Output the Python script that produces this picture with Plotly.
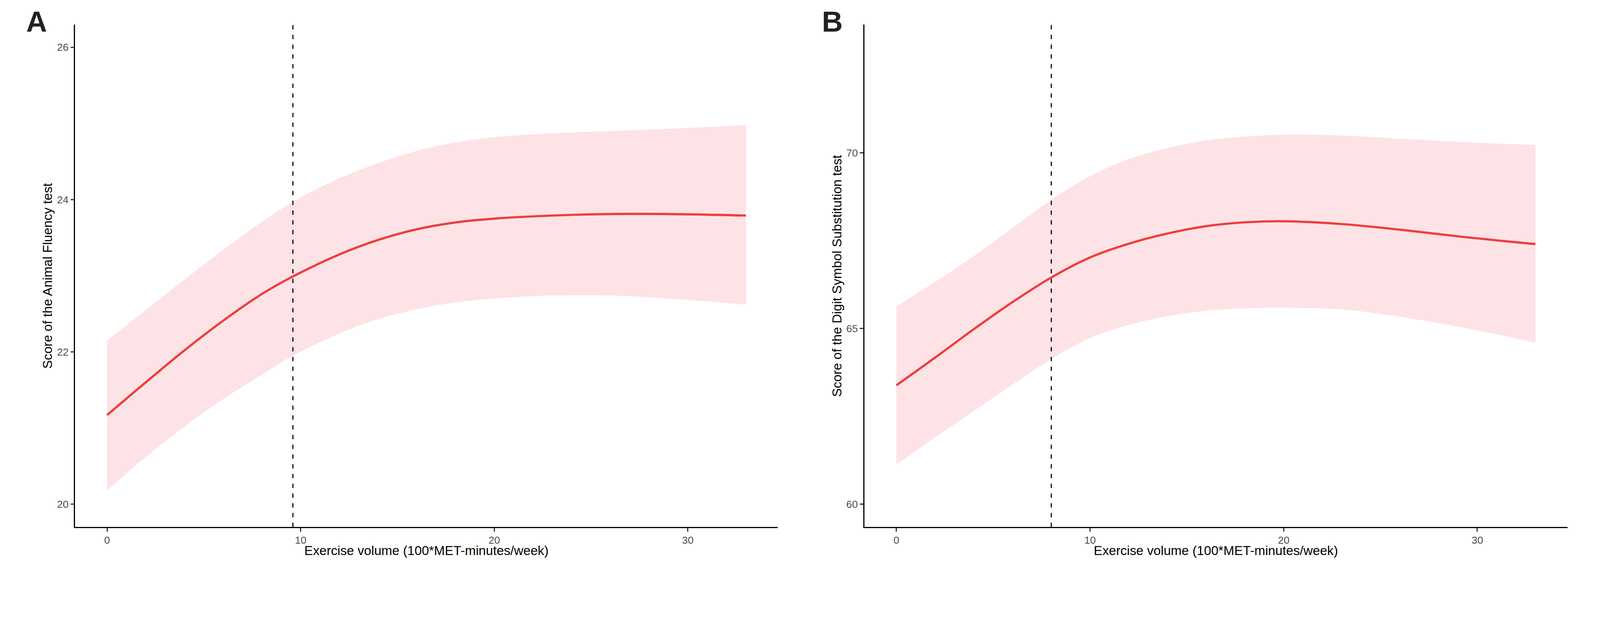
import plotly.graph_objects as go

FONT = "Liberation Sans, Arial, sans-serif"
LINE_RED = "#EF3D3D"
BAND_PINK = "#FDE3E5"

# exercise volume grid (100*MET-minutes/week)
vol_a = [0, 2, 4, 6, 8, 9.6, 12, 14, 16, 18, 20, 23, 26, 29, 33]
fit_a = [21.17, 21.60, 22.02, 22.41, 22.76, 22.99, 23.28, 23.47, 23.61, 23.70, 23.75, 23.79, 23.81, 23.81, 23.79]
low_a = [20.18, 20.62, 21.02, 21.38, 21.70, 21.95, 22.24, 22.43, 22.56, 22.65, 22.70, 22.74, 22.74, 22.70, 22.62]
upp_a = [22.15, 22.55, 22.95, 23.34, 23.71, 23.97, 24.28, 24.48, 24.64, 24.75, 24.82, 24.87, 24.90, 24.93, 24.98]
cut_a = 9.6

vol_b = [0, 2, 4, 6, 8, 10, 12, 14, 16, 18, 20, 23, 26, 29, 33]
fit_b = [63.38, 64.17, 64.98, 65.75, 66.45, 67.02, 67.41, 67.70, 67.91, 68.02, 68.05, 67.97, 67.81, 67.62, 67.40]
low_b = [61.13, 61.90, 62.65, 63.40, 64.13, 64.73, 65.10, 65.35, 65.50, 65.57, 65.59, 65.54, 65.33, 65.05, 64.60]
upp_b = [65.63, 66.32, 67.06, 67.86, 68.66, 69.33, 69.82, 70.13, 70.35, 70.46, 70.51, 70.49, 70.40, 70.31, 70.22]
cut_b = 8.0

x_ticks = [0, 10, 20, 30]
y_ticks_a = [20, 22, 24, 26]
y_ticks_b = [60, 65, 70]

X_TITLE = "Exercise volume (100*MET-minutes/week)"
Y_TITLE_A = "Score of the Animal Fluency test"
Y_TITLE_B = "Score of the Digit Symbol Substitution test"

# the page is shot at ~4317/4096 scale, and the body keeps its 8px margin
S = 4317 / 4096
BODY = 8
W, H = 4080, 1493


def px_x(p):
    return (p / S - BODY) / W


def px_y(p):
    return (H - (p / S - BODY)) / H


def sz(v):
    return v / S


def add_panel(fig, vol, fit, low, upp, cut, xa, ya):
    fig.add_trace(go.Scatter(x=vol, y=low, mode="lines", line=dict(width=0, shape="spline"),
                             xaxis=xa, yaxis=ya, showlegend=False, hoverinfo="skip"))
    fig.add_trace(go.Scatter(x=vol, y=upp, mode="lines", line=dict(width=0, shape="spline"),
                             fill="tonexty", fillcolor=BAND_PINK,
                             xaxis=xa, yaxis=ya, showlegend=False, hoverinfo="skip"))
    fig.add_trace(go.Scatter(x=vol, y=fit, mode="lines", line=dict(width=sz(6), color=LINE_RED, shape="spline"),
                             xaxis=xa, yaxis=ya, showlegend=False))
    fig.add_shape(type="line", xref=xa, yref=f"{ya} domain", x0=cut, x1=cut, y0=0, y1=1,
                  line=dict(color="black", width=sz(3), dash="11px,14px"))


fig = go.Figure()
add_panel(fig, vol_a, fit_a, low_a, upp_a, cut_a, "x", "y")
add_panel(fig, vol_b, fit_b, low_b, upp_b, cut_b, "x2", "y2")

axis_style = dict(showline=True, linewidth=sz(3), linecolor="black", showgrid=False, zeroline=False,
                  ticks="outside", ticklen=sz(9), tickwidth=sz(3), tickcolor="#333333",
                  tickfont=dict(family=FONT, size=sz(28), color="#4D4D4D"))

fig.update_layout(
    width=W, height=H,
    paper_bgcolor="white", plot_bgcolor="white",
    margin=dict(l=0, r=0, t=0, b=0),
    xaxis=dict(domain=[px_x(202.7), px_x(2098.7)], range=[-1.65, 34.65], tickvals=x_ticks, anchor="y", **axis_style),
    yaxis=dict(domain=[px_y(1423), px_y(66)], range=[19.7, 26.3], tickvals=y_ticks_a, anchor="x", **axis_style),
    xaxis2=dict(domain=[px_x(2332.3), px_x(4229)], range=[-1.65, 34.65], tickvals=x_ticks, anchor="y2", **axis_style),
    yaxis2=dict(domain=[px_y(1423), px_y(66)], range=[59.35, 73.65], tickvals=y_ticks_b, anchor="x2", **axis_style),
)

title_font = dict(family=FONT, size=sz(35), color="black")
ann = []
for x_mid in [(202.7 + 2098.7) / 2, (2332.3 + 4229) / 2]:
    ann.append(dict(text=X_TITLE, x=px_x(x_mid), y=px_y(1487), xref="paper", yref="paper",
                    xanchor="center", yanchor="middle", showarrow=False, font=title_font))
y_mid = px_y((66 + 1423) / 2)
ann.append(dict(text=Y_TITLE_A, x=px_x(128), y=y_mid, xref="paper", yref="paper", textangle=-90,
                xanchor="center", yanchor="middle", showarrow=False, font=title_font))
ann.append(dict(text=Y_TITLE_B, x=px_x(2258), y=y_mid, xref="paper", yref="paper", textangle=-90,
                xanchor="center", yanchor="middle", showarrow=False, font=title_font))
for letter, cx in [("A", 98.5), ("B", 2245.5)]:
    ann.append(dict(text=f"<b>{letter}</b>", x=px_x(cx), y=px_y(59), xref="paper", yref="paper",
                    xanchor="center", yanchor="middle", showarrow=False,
                    font=dict(family=FONT, size=sz(78), color="#222222")))
fig.update_layout(annotations=ann)

fig.write_html("out.html")
